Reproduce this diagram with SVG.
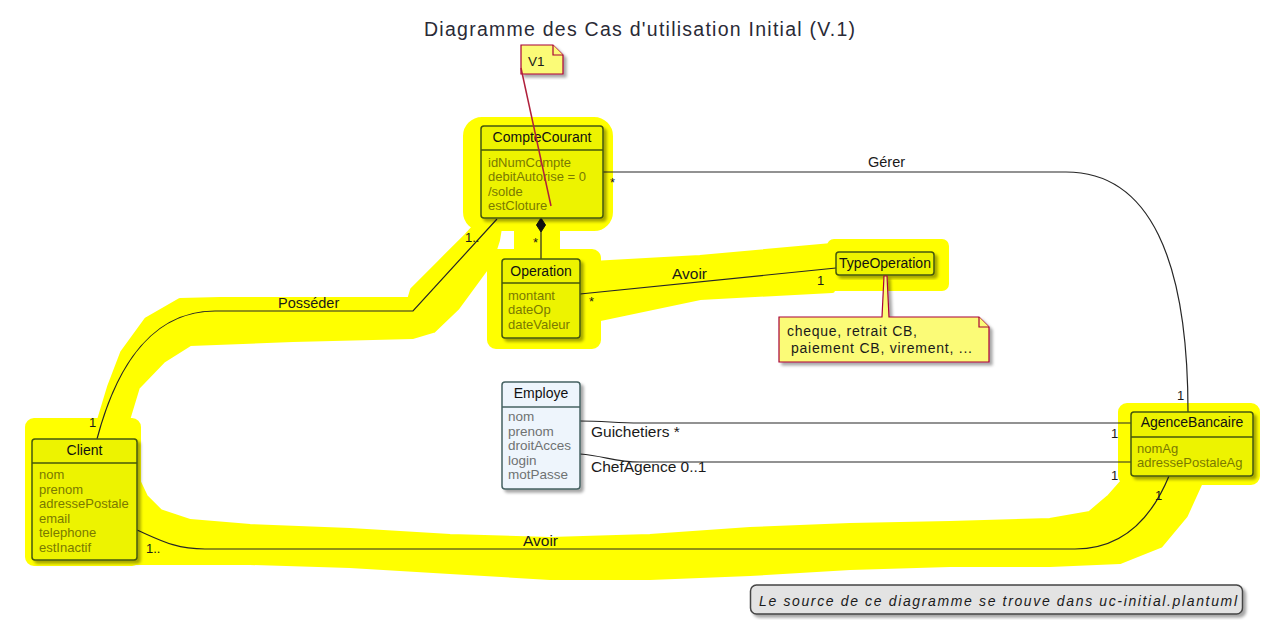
<svg xmlns="http://www.w3.org/2000/svg" width="1267" height="630" viewBox="0 0 1267 630">
<defs>
<style>
.t{font-family:"Liberation Sans",Arial,sans-serif}
.ttl{font-family:"Liberation Sans",Arial,sans-serif;font-size:14px;fill:#111;text-anchor:middle}
.at{font-family:"Liberation Sans",Arial,sans-serif;font-size:13px;fill:#7a7a00}
.atb{font-family:"Liberation Sans",Arial,sans-serif;font-size:13.5px;fill:#6f7272}
.lb{font-family:"Liberation Sans",Arial,sans-serif;font-size:14.5px;fill:#1a1a1a}
.lb2{font-family:"Liberation Sans",Arial,sans-serif;font-size:15.5px;fill:#1a1a1a}
.mu{font-family:"Liberation Sans",Arial,sans-serif;font-size:13px;fill:#1a1a1a}
.ybox{fill:#edf300;stroke:#44580a;stroke-width:1.5}
.bbox{fill:#eef5fc;stroke:#466262;stroke-width:1.5}
.ysep{stroke:#44580a;stroke-width:1.5}
.bsep{stroke:#466262;stroke-width:1.5}
.cn{fill:none;stroke:#262626;stroke-width:1.2}
.hl{fill:#ffff00;stroke:#ffff00;stroke-linejoin:round;stroke-width:6}
.note{fill:#fbfb77;stroke:#a80036;stroke-width:1.2}
</style>
<filter id="sh" x="-10%" y="-10%" width="130%" height="130%">
<feDropShadow dx="3" dy="3" stdDeviation="1.8" flood-color="#000" flood-opacity="0.35"/>
</filter>
</defs>
<rect width="1267" height="630" fill="#ffffff"/>

<g id="highlights">
<rect class="hl" x="466" y="120" width="144" height="108" rx="16"/>
<rect class="hl" x="517" y="222" width="40" height="40"/>
<polygon class="hl" points="100,420 110,387 123,353 147,320 180,301 220,300 410,300 413,290 440,263 467,236 478,224 500,222 497,240 490,262 457,307 433,330 413,336 293,339 190,343 163,360 137,387 127,420 127,440"/>
<rect class="hl" x="490" y="252" width="108" height="94" rx="6"/>
<polygon class="hl" points="592,264 700,258 832,246 832,290 700,297 600,318 592,326"/>
<rect class="hl" x="830" y="242" width="116" height="46" rx="4"/>
<rect class="hl" x="28" y="421" width="110" height="142" rx="6"/>
<polygon class="hl" points="136,478 145,497 160,512 190,522 250,527 350,531 450,537 550,540 650,537 750,530 850,526 950,524 1050,521 1090,514 1110,497 1125,480 1200,482 1185,515 1160,545 1120,561 1050,564 950,564 850,567 750,573 650,577 550,577 450,571 350,565 250,562 150,562 136,562"/>
<rect class="hl" x="1121" y="406" width="136" height="76" rx="6"/>
</g>

<text class="t" x="639.5" y="36" font-size="19.5" fill="#2a2a36" text-anchor="middle" textLength="431" lengthAdjust="spacing">Diagramme des Cas d'utilisation Initial (V.1)</text>

<g id="connectors">
<path class="cn" d="M97,439 C110,390 140,311 215,311 L413,311 L497,219"/>
<text class="lb" x="278" y="308">Posséder</text>
<text class="mu" x="465" y="242">1..</text>
<text class="mu" x="89" y="427">1</text>
<polygon points="541,218 545.5,225 541,232 536.5,225" fill="#111" stroke="#111"/>
<line class="cn" x1="541" y1="232" x2="541" y2="259"/>
<text class="mu" x="533" y="247">*</text>
<line class="cn" x1="580" y1="294" x2="836" y2="268"/>
<text class="lb2" x="672" y="279">Avoir</text>
<text class="mu" x="817" y="285">1</text>
<text class="mu" x="589" y="306">*</text>
<path class="cn" d="M603,172 L1066,172 C1150,172 1188,260 1188,412"/>
<text class="lb" x="868" y="167">Gérer</text>
<text class="mu" x="610" y="187">*</text>
<text class="mu" x="1177" y="400">1</text>
<path class="cn" d="M580,421 C605,421 615,423 640,423 L1131,423"/>
<text class="lb2" x="591" y="437">Guichetiers *</text>
<text class="mu" x="1111" y="438">1</text>
<path class="cn" d="M580,454 C605,456 615,462 640,462 L1131,462"/>
<text class="lb2" x="591" y="472">ChefAgence 0..1</text>
<text class="mu" x="1111" y="480">1</text>
<path class="cn" d="M137,530 C160,540 175,549 205,549 L1075,549 C1120,549 1150,522 1169,476"/>
<text class="lb2" x="523" y="546">Avoir</text>
<text class="mu" x="146" y="553">1..</text>
<text class="mu" x="1155" y="500">1</text>
</g>

<g id="CompteCourant">
<rect class="ybox" x="481" y="126" width="122" height="92" rx="3" filter="url(#sh)"/>
<line class="ysep" x1="481" y1="150" x2="603" y2="150"/>
<text class="ttl" x="542" y="142">CompteCourant</text>
<text class="at" x="488" y="167">idNumCompte</text>
<text class="at" x="488" y="181">debitAutorise = 0</text>
<text class="at" x="488" y="195.5">/solde</text>
<text class="at" x="488" y="210">estCloture</text>
</g>

<g id="Operation">
<rect class="ybox" x="502" y="259" width="78" height="79" rx="3" filter="url(#sh)"/>
<line class="ysep" x1="502" y1="283" x2="580" y2="283"/>
<text class="ttl" x="541" y="276">Operation</text>
<text class="at" x="508" y="300">montant</text>
<text class="at" x="508" y="314">dateOp</text>
<text class="at" x="508" y="328.5">dateValeur</text>
</g>

<g id="TypeOperation">
<rect class="ybox" x="836" y="252" width="98" height="23" rx="3" filter="url(#sh)"/>
<text class="ttl" x="885" y="268">TypeOperation</text>
</g>

<g id="Employe">
<rect class="bbox" x="502" y="382" width="78" height="107" rx="3" filter="url(#sh)"/>
<line class="bsep" x1="502" y1="407" x2="580" y2="407"/>
<text class="ttl" x="541" y="398">Employe</text>
<text class="atb" x="508" y="421">nom</text>
<text class="atb" x="508" y="435.5">prenom</text>
<text class="atb" x="508" y="450">droitAcces</text>
<text class="atb" x="508" y="464.5">login</text>
<text class="atb" x="508" y="479">motPasse</text>
</g>

<g id="AgenceBancaire">
<rect class="ybox" x="1131" y="412" width="122" height="64" rx="3" filter="url(#sh)"/>
<line class="ysep" x1="1131" y1="437" x2="1253" y2="437"/>
<text class="ttl" x="1192" y="427">AgenceBancaire</text>
<text class="at" x="1137" y="453">nomAg</text>
<text class="at" x="1137" y="467">adressePostaleAg</text>
</g>

<g id="Client">
<rect class="ybox" x="32" y="439" width="105" height="121" rx="3" filter="url(#sh)"/>
<line class="ysep" x1="32" y1="463" x2="137" y2="463"/>
<text class="ttl" x="84.5" y="455">Client</text>
<text class="at" x="39" y="479">nom</text>
<text class="at" x="39" y="493.5">prenom</text>
<text class="at" x="39" y="508">adressePostale</text>
<text class="at" x="39" y="522.5">email</text>
<text class="at" x="39" y="537">telephone</text>
<text class="at" x="39" y="551.5">estInactif</text>
</g>

<g id="noteTypeOperation">
<path class="note" d="M779,317 L882,317 L884,276 L887,276 L889,317 L979,317 L989,327 L989,362 L779,362 Z" filter="url(#sh)"/>
<path class="note" d="M979,317 L979,327 L989,327"/>
<text class="t" x="787" y="336" font-size="14" fill="#1a1a1a" textLength="130" lengthAdjust="spacing">cheque, retrait CB,</text>
<text class="t" x="791" y="353" font-size="14" fill="#1a1a1a" textLength="181" lengthAdjust="spacing">paiement CB, virement, ...</text>
</g>

<g id="noteV1">
<path class="note" d="M521,45 L553,45 L563,55 L563,74 L521,74 Z" filter="url(#sh)"/>
<path class="note" d="M553,45 L553,55 L563,55"/>
<text class="t" x="528" y="66" font-size="13.5" fill="#1a1a1a">V1</text>
<line x1="521" y1="68" x2="551" y2="206" stroke="#b0203c" stroke-width="1.5"/>
</g>

<g id="legend">
<rect x="750.5" y="585" width="492" height="29" rx="6" fill="#e3e3e3" stroke="#444" stroke-width="1.5" filter="url(#sh)"/>
<text class="t" x="759" y="606" font-size="14" font-style="italic" fill="#1a1a1a" textLength="478" lengthAdjust="spacing">Le source de ce diagramme se trouve dans uc-initial.plantuml</text>
</g>
</svg>
